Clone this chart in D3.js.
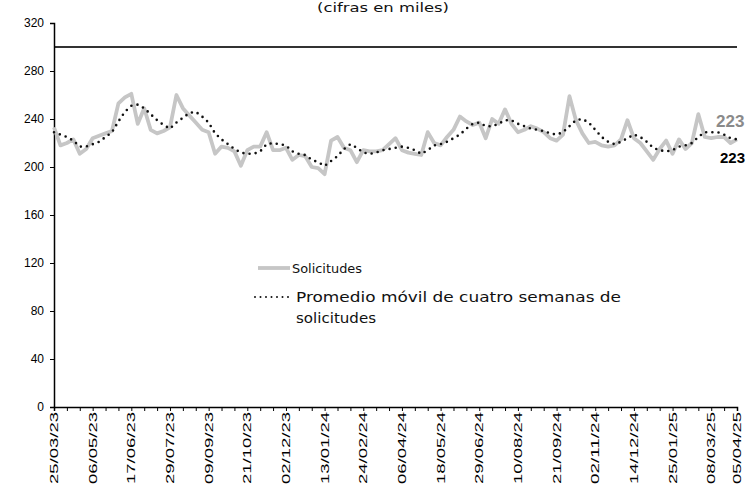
<!DOCTYPE html>
<html>
<head>
<meta charset="utf-8">
<script src="https://cdn.jsdelivr.net/npm/d3@7"></script>
<style>
  html, body { margin: 0; padding: 0; background: #fff; }
  svg { display: block; }
</style>
</head>
<body>
<svg id="chart" width="748" height="487"></svg>
<script>
// ---- Data (values in thousands) ----
const startDate = "2023-03-25";           // first weekly observation
const solicitudes = [
  233,218,220,223,211,215,224,226,228,230,
  253,258,261,236,249,231,228,230,233,260,
  249,243,237,231,229,211,217,216,213,201,
  214,217,217,229,214,214,216,206,210,209,
  200,199,194,222,225,216,214,204,214,213,
  213,214,219,224,214,212,211,210,229,220,
  218,225,231,242,238,235,237,224,240,236,
  248,236,229,231,234,232,229,224,222,227,
  259,239,228,220,221,218,217,218,223,239,
  224,220,213,206,215,222,211,223,215,220,
  244,225,224,225,225,220,223
];
const promedio4 = [
  229,227,225,222,217,217,219,221,225,229,
  238,246,251,252,249,244,239,235,232,237,
  241,245,246,242,237,228,223,219,215,212,
  211,211,213,219,220,219,218,213,211,210,
  206,204,201,205,209,215,219,216,212,211,
  212,214,215,216,217,216,214,211,214,218,
  219,221,224,227,232,236,237,234,234,236,
  239,239,236,234,232,231,230,228,227,229,
  234,239,240,237,231,225,221,219,221,224,
  227,225,221,216,214,213,214,217,218,220,
  225,229,229,229,227,224,223
];
const tickLabels = ["25/03/23","06/05/23","17/06/23","29/07/23","09/09/23","21/10/23",
  "02/12/23","13/01/24","24/02/24","06/04/24","18/05/24","29/06/24","10/08/24",
  "21/09/24","02/11/24","14/12/24","25/01/25","08/03/25","05/04/25"];
const yTicks = [0,40,80,120,160,200,240,280,320];
const refLine = 300;
const titleText = "(cifras en miles)";
const legendLabels = ["Solicitudes", "Promedio móvil de cuatro semanas de", "solicitudes"];
const lastLabel = "223";

// ---- Build ----
const parse = d3.timeParse("%Y-%m-%d");
const parseLbl = d3.timeParse("%d/%m/%y");
const t0 = parse(startDate);
const dates = solicitudes.map((_, i) => d3.timeDay.offset(t0, 7 * i));

const svg = d3.select("#chart");
const x = d3.scaleTime().domain([dates[0], dates[dates.length - 1]]).range([54, 737]);
const y = d3.scaleLinear().domain([0, 320]).range([407, 23]);

const sans = "'Liberation Sans', Arial, sans-serif";
const geo = "'DejaVu Sans', 'Noto Sans', sans-serif";

// title
svg.append("text").attr("x", 383).attr("y", 12)
  .attr("text-anchor", "middle").attr("font-family", geo).attr("font-size", 12)
  .attr("textLength", 132).attr("lengthAdjust", "spacingAndGlyphs")
  .attr("fill", "#111").text(titleText);

// reference line at 300
svg.append("line").attr("x1", 54).attr("x2", 737)
  .attr("y1", y(refLine)).attr("y2", y(refLine))
  .attr("stroke", "#333").attr("stroke-width", 2);

// y axis
const yAxis = d3.axisLeft(y).tickValues(yTicks).tickSize(4).tickPadding(6);
const gy = svg.append("g").attr("transform", "translate(54,0)").call(yAxis);
gy.select(".domain").attr("stroke", "#000").attr("stroke-width", 1.5);
gy.selectAll(".tick line").attr("stroke", "#000");
gy.selectAll(".tick text").attr("font-family", sans).attr("font-size", 12).attr("fill", "#000");

// x axis: minor ticks every 2 weeks, labels every 6 weeks + last
const minorTicks = dates.filter((d, i) => i % 2 === 0);
const xAxis = d3.axisBottom(x).tickValues(minorTicks).tickSize(4).tickFormat("");
const gx = svg.append("g").attr("transform", "translate(0,407)").call(xAxis);
gx.select(".domain").attr("stroke", "#000").attr("stroke-width", 1.5);
gx.selectAll(".tick line").attr("stroke", "#000");

const lblG = svg.append("g");
tickLabels.forEach(s => {
  const d = parseLbl(s);
  const px = x(d);
  lblG.append("text")
    .attr("transform", `translate(${px + 4},412) rotate(-90)`)
    .attr("text-anchor", "end")
    .attr("font-family", sans).attr("font-size", 11).attr("fill", "#000")
    .attr("textLength", 72).attr("lengthAdjust", "spacingAndGlyphs")
    .text(s);
});

// lines
const line = d3.line().x((d, i) => x(dates[i])).y(d => y(d));
svg.append("path").datum(solicitudes).attr("d", line)
  .attr("fill", "none").attr("stroke", "#c6c6c6").attr("stroke-width", 3.8)
  .attr("stroke-linejoin", "round");
svg.append("path").datum(promedio4).attr("d", line)
  .attr("fill", "none").attr("stroke", "#111").attr("stroke-width", 2.6)
  .attr("stroke-dasharray", "0,6.2").attr("stroke-linecap", "round");

// end labels
svg.append("text").attr("x", 716).attr("y", 127)
  .attr("font-family", "'Liberation Sans Narrow', 'Liberation Sans', sans-serif")
  .attr("font-weight", "bold").attr("font-size", 17).attr("fill", "#8a8a8a").text(lastLabel);
svg.append("text").attr("x", 720).attr("y", 163)
  .attr("font-family", "'Liberation Sans Narrow', 'Liberation Sans', sans-serif")
  .attr("font-weight", "bold").attr("font-size", 15).attr("fill", "#000").text(lastLabel);

// legend
svg.append("line").attr("x1", 258).attr("x2", 290).attr("y1", 268).attr("y2", 268)
  .attr("stroke", "#c6c6c6").attr("stroke-width", 3.8);
svg.append("text").attr("x", 292).attr("y", 273)
  .attr("font-family", geo).attr("font-size", 13).attr("fill", "#111")
  .attr("textLength", 70).attr("lengthAdjust", "spacingAndGlyphs").text(legendLabels[0]);
svg.append("line").attr("x1", 255).attr("x2", 290).attr("y1", 297).attr("y2", 297)
  .attr("stroke", "#111").attr("stroke-width", 2).attr("stroke-dasharray", "0,5.5").attr("stroke-linecap", "round");
svg.append("text").attr("x", 296).attr("y", 302)
  .attr("font-family", geo).attr("font-size", 14).attr("fill", "#111")
  .attr("textLength", 325).attr("lengthAdjust", "spacingAndGlyphs").text(legendLabels[1]);
svg.append("text").attr("x", 296).attr("y", 323)
  .attr("font-family", geo).attr("font-size", 14).attr("fill", "#111")
  .attr("textLength", 80).attr("lengthAdjust", "spacingAndGlyphs").text(legendLabels[2]);
</script>
</body>
</html>
